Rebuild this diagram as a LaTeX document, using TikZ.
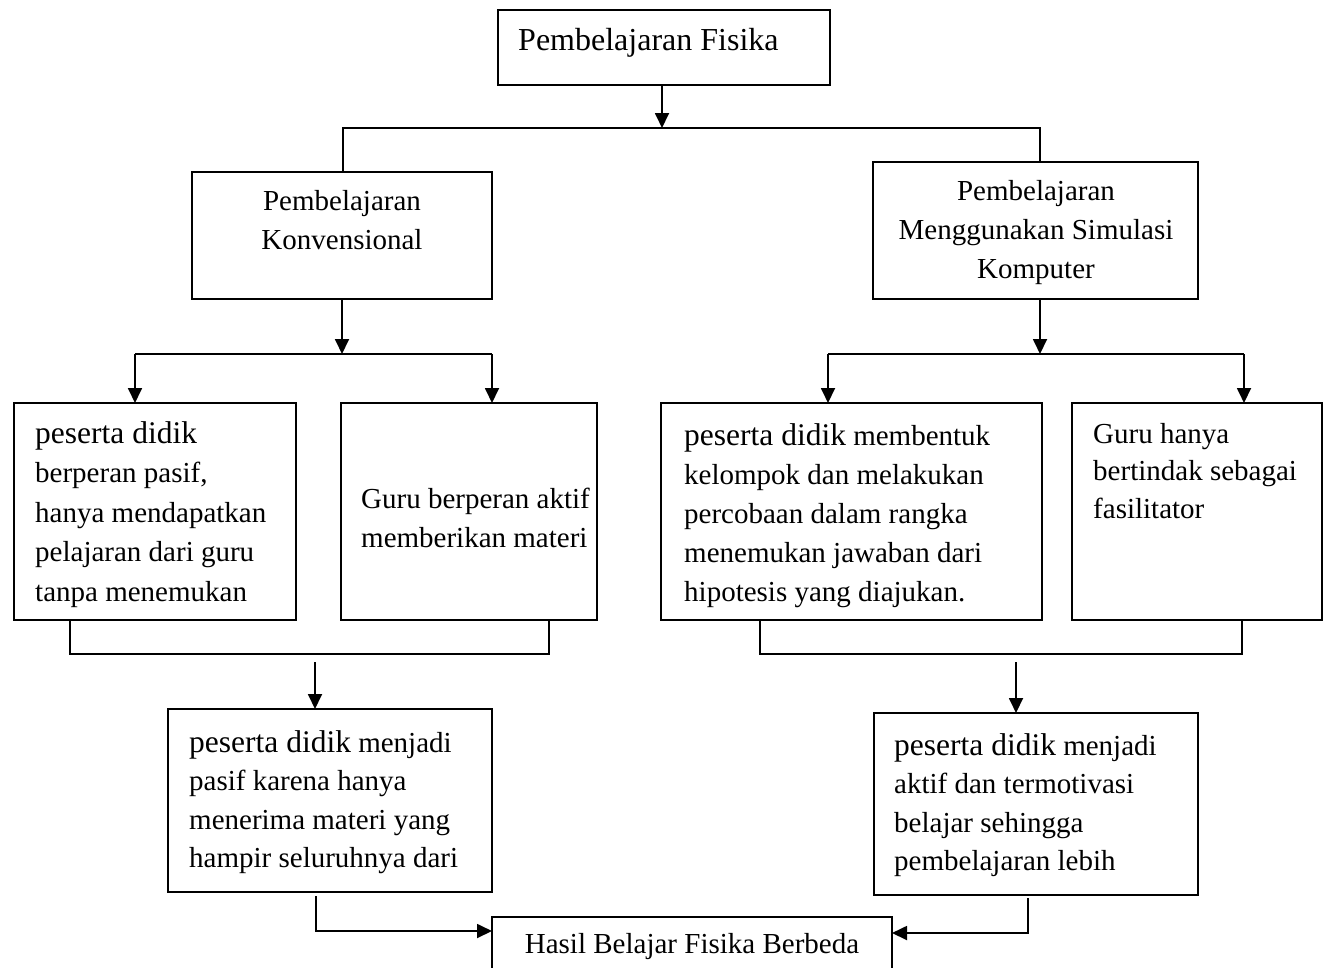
\documentclass[tikz,border=0pt]{standalone}
\usepackage{fontspec}
\setmainfont{Liberation Serif}
\usetikzlibrary{arrows.meta}
\newcommand{\pdk}{{\fontsize{31.5}{39}\selectfont peserta didik}}
\newcommand{\txtL}[1]{\begin{tabular}[t]{@{}l@{}}#1\end{tabular}}
\newcommand{\txtC}[1]{\begin{tabular}[t]{@{}c@{}}#1\end{tabular}}
\begin{document}
\begin{tikzpicture}[x=1pt,y=-1pt,
  box/.style={draw, line width=1.8pt, inner sep=0pt, outer sep=0pt, anchor=north west},
  txt/.style={inner sep=0pt, anchor=base west, font=\fontsize{29}{39}\selectfont},
  ctxt/.style={inner sep=0pt, anchor=base, font=\fontsize{29}{39}\selectfont},
  line/.style={line width=1.8pt},
  arr/.style={line width=1.8pt, -{Triangle[length=15pt,width=14pt]}}]
\useasboundingbox (0,0) rectangle (1324,967);
% boxes
\node[box, minimum width=332pt, minimum height=75pt] (bTop) at (498,10) {};
\node[box, minimum width=300pt, minimum height=127pt] (bKon) at (192,172) {};
\node[box, minimum width=325pt, minimum height=137pt] (bSim) at (873,162) {};
\node[box, minimum width=282pt, minimum height=217pt] (bPas) at (14,403) {};
\node[box, minimum width=256pt, minimum height=217pt] (bGuru) at (341,403) {};
\node[box, minimum width=381pt, minimum height=217pt] (bKel) at (661,403) {};
\node[box, minimum width=250pt, minimum height=217pt] (bFas) at (1072,403) {};
\node[box, minimum width=324pt, minimum height=183pt] (bHPas) at (168,709) {};
\node[box, minimum width=324pt, minimum height=182pt] (bHAkt) at (874,713) {};
\node[box, minimum width=400pt, minimum height=62pt] (bHasil) at (492,917) {};
% texts
\node[txt, font=\fontsize{32}{38}\selectfont] (tTop) at (518,50) {Pembelajaran Fisika};
\node[ctxt] (tKon) at (342,210) {\txtC{Pembelajaran\\Konvensional}};
\node[ctxt] (tSim) at (1036,200) {\txtC{Pembelajaran\\Menggunakan Simulasi\\Komputer}};
\node[txt, font=\fontsize{29}{39.5}\selectfont] (tPas) at (35,443) {\txtL{\pdk\\berperan pasif,\\hanya mendapatkan\\pelajaran dari guru\\tanpa menemukan}};
\node[txt] (tGuru) at (361,508) {\txtL{Guru berperan aktif\\memberikan materi}};
\node[txt] (tKel) at (684,445) {\txtL{\pdk\ membentuk\\kelompok dan melakukan\\percobaan dalam rangka\\menemukan jawaban dari\\hipotesis yang diajukan.}};
\node[txt, font=\fontsize{29}{37.5}\selectfont] (tFas) at (1093,443) {\txtL{Guru hanya\\bertindak sebagai\\fasilitator}};
\node[txt, font=\fontsize{29}{38.5}\selectfont] (tHPas) at (189,752) {\txtL{\pdk\ menjadi\\pasif karena hanya\\menerima materi yang\\hampir seluruhnya dari}};
\node[txt, font=\fontsize{29}{38.5}\selectfont] (tHAkt) at (894,755) {\txtL{\pdk\ menjadi\\aktif dan termotivasi\\belajar sehingga\\pembelajaran lebih}};
\node[ctxt] (tHasil) at (692,953) {Hasil Belajar Fisika Berbeda};
% junction coordinates
\coordinate (j1) at (662,128);
\coordinate (j1a) at (343,128);
\coordinate (j1b) at (1040,128);
\coordinate (l2) at (342,354);
\coordinate (l2a) at (135,354);
\coordinate (l2b) at (492,354);
\coordinate (r2) at (1040,354);
\coordinate (r2a) at (828,354);
\coordinate (r2b) at (1244,354);
\coordinate (l3a) at (70,654);
\coordinate (l3b) at (549,654);
\coordinate (r3a) at (760,654);
\coordinate (r3b) at (1242,654);
\coordinate (l4) at (315,662);
\coordinate (r4) at (1016,662);
\coordinate (l5) at (316,896);
\coordinate (l6) at (316,931);
\coordinate (r5) at (1028,898);
\coordinate (r6) at (1028,933);
% connectors
\draw[arr] (bTop.south -| j1) -- (j1);
\draw[line] (bKon.north -| j1a) -- (j1a) -- (j1b) -- (bSim.north -| j1b);
\draw[arr] (bKon.south -| l2) -- (l2);
\draw[line] (l2a) -- (l2b);
\draw[arr] (l2a) -- (l2a |- bPas.north);
\draw[arr] (l2b) -- (l2b |- bGuru.north);
\draw[arr] (bSim.south -| r2) -- (r2);
\draw[line] (r2a) -- (r2b);
\draw[arr] (r2a) -- (r2a |- bKel.north);
\draw[arr] (r2b) -- (r2b |- bFas.north);
\draw[line] (bPas.south -| l3a) -- (l3a) -- (l3b) -- (bGuru.south -| l3b);
\draw[line] (bKel.south -| r3a) -- (r3a) -- (r3b) -- (bFas.south -| r3b);
\draw[arr] (l4) -- (l4 |- bHPas.north);
\draw[arr] (r4) -- (r4 |- bHAkt.north);
\draw[arr] (l5) -- (l6) -- (l6 -| bHasil.west);
\draw[arr] (r5) -- (r6) -- (r6 -| bHasil.east);
\end{tikzpicture}
\end{document}
